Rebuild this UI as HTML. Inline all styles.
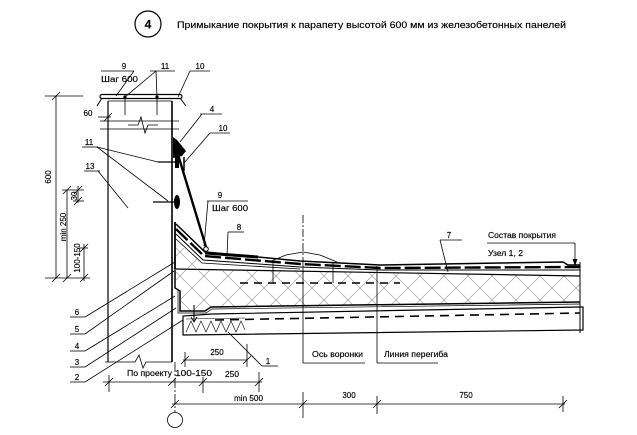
<!DOCTYPE html>
<html><head><meta charset="utf-8"><style>
html,body{margin:0;padding:0;background:#fff;}
svg{display:block;}
text{font-family:"Liberation Sans",Arial,sans-serif;fill:#000;font-size:8px;stroke:#000;stroke-width:0.15;}
</style></head><body>
<svg width="637" height="435" viewBox="0 0 637 435" xmlns="http://www.w3.org/2000/svg">
<defs>
<pattern id="hx" width="24" height="24" patternUnits="userSpaceOnUse">
<path d="M0,0L24,24M24,0L0,24" stroke="#8a8a8a" stroke-width="0.6" fill="none"/>
</pattern>
</defs>

<!-- Title -->
<circle cx="148" cy="24" r="13" fill="none" stroke="#000" stroke-width="1.2"/>
<text x="148" y="28.5" text-anchor="middle" style="font-size:12px;font-weight:bold">4</text>
<text x="177" y="28" style="font-size:9.5px" textLength="389" lengthAdjust="spacingAndGlyphs">Примыкание покрытия к парапету высотой 600 мм из железобетонных панелей</text>

<g fill="none" stroke="#000" stroke-width="0.8">
<!-- left dimensions -->
<line x1="45" y1="96" x2="83" y2="96"/>
<line x1="56" y1="96" x2="56" y2="278"/>
<line x1="45" y1="278" x2="90" y2="278"/>
<line x1="62" y1="190" x2="84" y2="190"/>
<line x1="67" y1="190" x2="67" y2="278"/>
<line x1="78" y1="186" x2="78" y2="203"/>
<line x1="73" y1="201" x2="84" y2="201"/>
<line x1="79" y1="248" x2="88" y2="248"/>
<line x1="84" y1="244" x2="84" y2="281"/>
<path d="M52,100L60,92M52,282L60,274M63,194L71,186M63,282L71,274M74,194L82,186M74,205L82,197M80,252L88,244M80,282L88,274"/>

<!-- parapet cap -->
<rect x="100" y="94.5" width="82" height="4" rx="2" fill="#fff" stroke-width="1.2"/>
<path d="M102,98L97,106M180,98L186,106" stroke-width="1"/>
<line x1="108" y1="101" x2="172" y2="101"/>
<line x1="108" y1="101" x2="108" y2="362" stroke-width="1.2"/>
<line x1="172" y1="101" x2="172" y2="362" stroke-width="1.6"/>
<line x1="100" y1="121" x2="179" y2="121"/>
<line x1="100" y1="129" x2="179" y2="129"/>
<polyline points="128,125 138,125 141,117 145,133 148,125 158,125"/>
<line x1="125" y1="97" x2="125" y2="115"/>
<line x1="157" y1="97" x2="157" y2="115"/>
<!-- 60 dim -->
<line x1="98" y1="117" x2="111" y2="117"/>
<path d="M104,121L112,113"/>

<!-- upper leaders -->
<line x1="101" y1="71" x2="134" y2="71"/>
<line x1="134" y1="71" x2="116" y2="96"/>
<line x1="150" y1="71" x2="175" y2="71"/>
<line x1="156" y1="71" x2="125" y2="97"/>
<line x1="156" y1="71" x2="157" y2="97"/>
<line x1="190" y1="71" x2="210" y2="71"/>
<line x1="190" y1="71" x2="178" y2="97"/>
<line x1="200" y1="114" x2="222" y2="114"/>
<line x1="202" y1="114" x2="180" y2="142"/>
<line x1="210" y1="133" x2="230" y2="133"/>
<line x1="210" y1="133" x2="184" y2="163"/>
<line x1="82" y1="147" x2="98" y2="147"/>
<line x1="97" y1="147" x2="158" y2="162"/>
<line x1="97" y1="147" x2="168" y2="201"/>
<line x1="84" y1="171" x2="100" y2="171"/>
<line x1="98" y1="171" x2="128" y2="208"/>
<!-- 9 / Шаг 600 lower and 8 -->
<line x1="207" y1="201" x2="248" y2="201"/>
<line x1="208" y1="201" x2="204" y2="246"/>
<line x1="228" y1="232" x2="244" y2="232"/>
<line x1="228" y1="232" x2="227" y2="256"/>

<!-- bolts -->
<line x1="158" y1="162" x2="181" y2="162" stroke-width="1.2"/>
<line x1="184" y1="157" x2="184" y2="171" stroke-width="1.5"/>
<line x1="153" y1="202" x2="180" y2="202" stroke-width="1.2"/>

<!-- screen -->
<line x1="176" y1="148" x2="206" y2="247" stroke-width="2.4"/>
<circle cx="206" cy="249" r="2.3" stroke-width="1"/>

<!-- insulation + fillet hatch -->
<polygon points="176,270 580,276 580,303 210,308 205,311 181,311 181,291 176,288" fill="url(#hx)" stroke="none"/>
<polygon points="176,242 176,268 201,268 202,263" fill="url(#hx)" stroke="none"/>

<!-- upturn on parapet -->
<line x1="175" y1="222" x2="175" y2="269" stroke-width="1.8"/>
<!-- roof membranes -->
<polyline points="176,224 205,252 300,261 380,265 563,262 568,265 580,265" stroke-width="1.5"/>
<polyline points="176,229 204,256 300,264 380,268 580,267" stroke-width="2.4" stroke-dasharray="16 4"/>
<polyline points="176,234 203,260 300,267 380,270 580,270" stroke-width="1"/>
<polyline points="176,239 202,263 300,269" stroke-width="0.8"/>
<line x1="205" y1="253" x2="258" y2="257" stroke-width="3"/>
<line x1="174" y1="269" x2="580" y2="276" stroke-width="1.2"/>

<!-- vapor barrier -->
<polyline points="175,270 175,288 180,291 180,311 205,311 211,307 580,302" stroke-width="1.5"/>
<polyline points="178,290 178,313 206,313 212,309 580,304" stroke-width="0.7"/>

<!-- slab -->
<path d="M183,335L183,316L212,314L580,307L583,307L583,330L183,335Z" stroke-width="1.2"/>
<polyline points="215,320 580,313" stroke-width="1.6" stroke-dasharray="9 6"/>
<polyline points="186,319 245,318" stroke-width="0.6"/>
<polyline points="186,332 191,321 196,332 201,321 206,332 211,321 216,332 221,321 226,332 231,321 236,332 241,321 245,330" stroke-width="0.6"/>
<line x1="194" y1="305" x2="194" y2="322" stroke-width="1"/>
<path d="M191,317L194,322L197,317" stroke-width="0.8"/>
<line x1="580" y1="262" x2="580" y2="333" stroke-width="1"/>

<!-- funnel -->
<polyline points="269,262 286,255 303,252 320,255 337,262"/>
<line x1="273" y1="262" x2="273" y2="283"/>
<line x1="333" y1="262" x2="333" y2="283"/>
<line x1="240" y1="283" x2="400" y2="283" stroke-width="1.5" stroke-dasharray="8 6"/>

<!-- axis lines -->
<line x1="303" y1="215" x2="303" y2="262" stroke-dasharray="8 2 2 2"/>
<line x1="303" y1="262" x2="303" y2="363"/>
<line x1="303" y1="363" x2="365" y2="363"/>
<line x1="377" y1="266" x2="377" y2="363"/>
<line x1="377" y1="363" x2="438" y2="363"/>

<!-- right label leaders -->
<line x1="440" y1="240" x2="462" y2="240"/>
<line x1="440" y1="240" x2="448" y2="272"/>
<line x1="487" y1="243" x2="575" y2="243"/>
<line x1="575" y1="243" x2="575" y2="264"/>
<path d="M573,259L575,265L577,259" fill="#000"/>

<!-- left numbered leaders -->
<line x1="70" y1="317" x2="85" y2="317"/>
<line x1="85" y1="317" x2="175" y2="262"/>
<line x1="70" y1="334" x2="85" y2="334"/>
<line x1="85" y1="334" x2="174" y2="271"/>
<line x1="70" y1="351" x2="85" y2="351"/>
<line x1="85" y1="351" x2="175" y2="296"/>
<line x1="70" y1="367" x2="85" y2="367"/>
<line x1="85" y1="367" x2="176" y2="308"/>
<line x1="70" y1="382" x2="85" y2="382"/>
<line x1="85" y1="382" x2="183" y2="320"/>
<line x1="262" y1="366" x2="278" y2="366"/>
<line x1="262" y1="366" x2="228" y2="332"/>

<!-- parapet bottom -->
<polyline points="105,362 135,362 139,355 143,368 146,362 172,362"/>
<line x1="175" y1="362" x2="175" y2="412" stroke-dasharray="10 2 2 2"/>
<circle cx="175" cy="420" r="7.5"/>

<!-- inner 250 -->
<line x1="183" y1="360" x2="247" y2="360"/>
<line x1="185" y1="352" x2="185" y2="367"/>
<line x1="247" y1="344" x2="247" y2="367"/>
<path d="M181,364L189,356M243,364L251,356"/>

<!-- row1 -->
<line x1="103" y1="382" x2="262" y2="382"/>
<line x1="109" y1="375" x2="109" y2="392"/>
<line x1="203" y1="377" x2="203" y2="393"/>
<line x1="259" y1="372" x2="259" y2="392"/>
<path d="M105,386L113,378M168,386L176,378M199,386L207,378M255,386L263,378"/>

<!-- row2 -->
<line x1="172" y1="404" x2="565" y2="404"/>
<line x1="303" y1="392" x2="303" y2="418"/>
<line x1="377" y1="396" x2="377" y2="414"/>
<line x1="563" y1="396" x2="563" y2="412"/>
<path d="M171,408L179,400M299,408L307,400M373,408L381,400M559,408L567,400"/>
</g>

<!-- black fills -->
<circle cx="125" cy="97" r="1.6" fill="#000"/>
<circle cx="157" cy="97" r="1.6" fill="#000"/>
<rect x="175" y="156" width="4" height="12" fill="#000"/>
<ellipse cx="177" cy="202" rx="3" ry="7" fill="#000"/>
<polygon points="173,137 177,140 186,151 182,156 173,158" fill="#000"/>

<!-- texts -->
<text transform="translate(51,177) rotate(-90)" text-anchor="middle">600</text>
<text transform="translate(66,227) rotate(-90)" text-anchor="middle">min 250</text>
<text transform="translate(77,196) rotate(-90)" text-anchor="middle">30</text>
<text transform="translate(80,258) rotate(-90)" text-anchor="middle">100-150</text>

<text x="124" y="69" text-anchor="middle">9</text>
<text x="101" y="82" textLength="37" lengthAdjust="spacingAndGlyphs">Шаг 600</text>
<text x="165" y="69" text-anchor="middle">11</text>
<text x="200" y="69" text-anchor="middle">10</text>
<text x="88" y="116" text-anchor="middle">60</text>
<text x="212" y="112" text-anchor="middle">4</text>
<text x="223" y="131" text-anchor="middle">10</text>
<text x="89" y="145" text-anchor="middle">11</text>
<text x="90" y="169" text-anchor="middle">13</text>
<text x="220" y="198" text-anchor="middle">9</text>
<text x="212" y="211" textLength="36" lengthAdjust="spacingAndGlyphs">Шаг 600</text>
<text x="239" y="230" text-anchor="middle">8</text>
<text x="449" y="238" text-anchor="middle">7</text>
<text x="488" y="238" textLength="68" lengthAdjust="spacingAndGlyphs">Состав покрытия</text>
<text x="488" y="256" textLength="35" lengthAdjust="spacingAndGlyphs">Узел 1, 2</text>

<text x="77" y="315" text-anchor="middle">6</text>
<text x="77" y="332" text-anchor="middle">5</text>
<text x="77" y="349" text-anchor="middle">4</text>
<text x="77" y="365" text-anchor="middle">3</text>
<text x="77" y="380" text-anchor="middle">2</text>
<text x="268" y="364" text-anchor="middle">1</text>

<text x="217" y="355" text-anchor="middle">250</text>
<text x="312" y="357" textLength="51" lengthAdjust="spacingAndGlyphs">Ось воронки</text>
<text x="384" y="357" textLength="64" lengthAdjust="spacingAndGlyphs">Линия перегиба</text>
<text x="127" y="376" textLength="45" lengthAdjust="spacingAndGlyphs">По проекту</text>
<text x="175" y="376" textLength="37" lengthAdjust="spacingAndGlyphs">100-150</text>
<text x="225" y="377" textLength="14" lengthAdjust="spacingAndGlyphs">250</text>
<text x="234" y="401" textLength="29" lengthAdjust="spacingAndGlyphs">min 500</text>
<text x="349" y="398" text-anchor="middle">300</text>
<text x="466" y="398" text-anchor="middle">750</text>
</svg>
</body></html>
